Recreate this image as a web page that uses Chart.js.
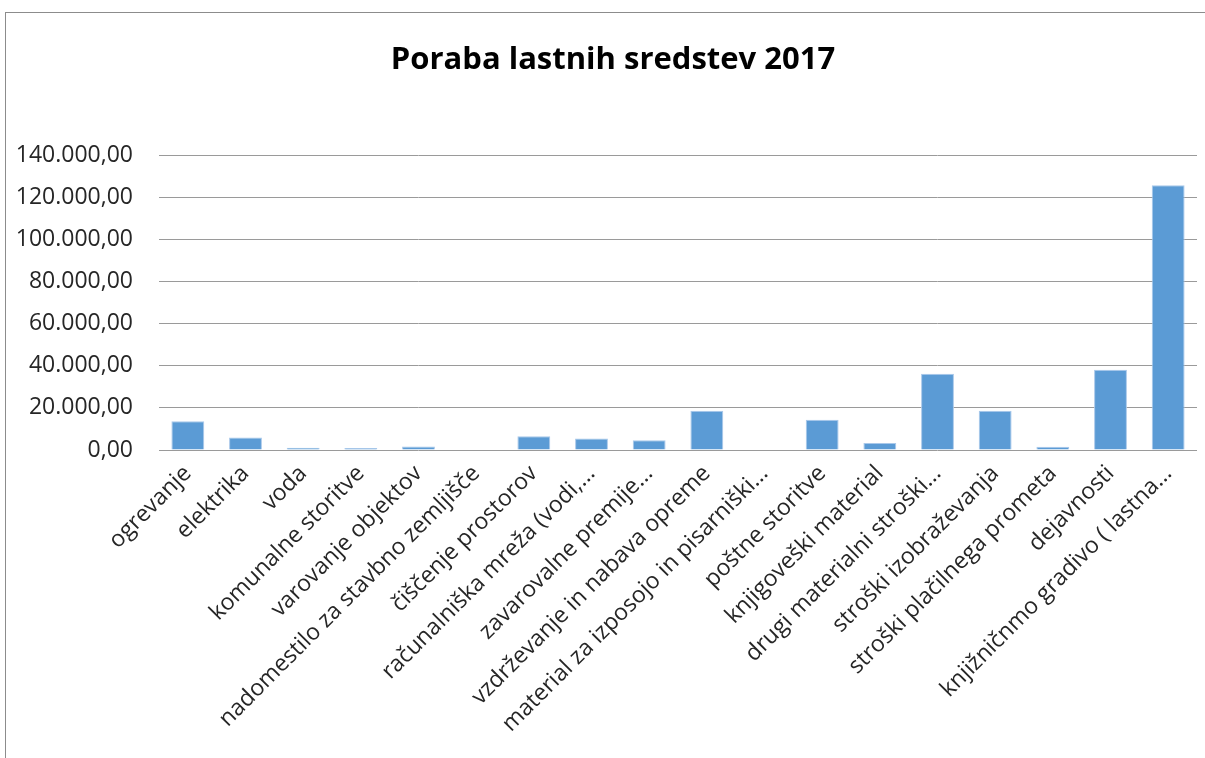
<!DOCTYPE html>
<html>
<head>
<meta charset="utf-8">
<script src="https://cdn.jsdelivr.net/npm/chart.js@4"></script>
<style>
  html, body { margin: 0; padding: 0; background: #fff; overflow: hidden; }
  #frame {
    position: absolute; left: 5px; top: 12px; width: 1300px; height: 900px;
    border-top: 1px solid #8c8c8c; border-left: 1px solid #8c8c8c;
  }
  #wrap { position: absolute; left: 0; top: 0; width: 1205px; height: 758px; }
  #title {
    position: absolute; left: 613px; top: 36px; transform: translateX(-50%);
    font-family: 'Open Sans', sans-serif; font-weight: bold; font-size: 31px;
    line-height: 42px; white-space: nowrap; color: #000;
  }
</style>
</head>
<body>
<div id="frame"></div>
<div id="wrap"><canvas id="chart-poraba"></canvas></div>
<div id="title">Poraba lastnih sredstev 2017</div>
<script>
// podatki - poraba lastnih sredstev 2017
const categories = [
    'ogrevanje',
    'elektrika',
    'voda',
    'komunalne storitve',
    'varovanje objektov',
    'nadomestilo za stavbno zemljišče',
    'čiščenje prostorov',
    'računalniška mreža (vodi,...',
    'zavarovalne premije...',
    'vzdrževanje in nabava opreme',
    'material za izposojo in pisarniški...',
    'poštne storitve',
    'knjigoveški material',
    'drugi materialni stroški...',
    'stroški izobraževanja',
    'stroški plačilnega prometa',
    'dejavnosti',
    'knjižničnmo gradivo ( lastna...'
];
const values = [13700, 5900, 1100, 1000, 1700, 0, 6500, 5400, 4600, 18600, 0, 14400, 3300, 36200, 18600, 1600, 38100, 125600];
const yTicks = [0, 20000, 40000, 60000, 80000, 100000, 120000, 140000];

const fmt = v => v.toLocaleString('de-DE', { minimumFractionDigits: 2, maximumFractionDigits: 2 });

const ctx = document.getElementById('chart-poraba').getContext('2d');
new Chart(ctx, {
    type: 'bar',
    data: {
        labels: categories,
        datasets: [{
            data: values,
            backgroundColor: '#5b9bd5',
            borderColor: '#a9c8ea',
            borderWidth: 1,
            barPercentage: 1,
            categoryPercentage: 0.57
        }]
    },
    options: {
        responsive: true,
        maintainAspectRatio: false,
        animation: false,
        // zgoraj prostor za naslov (HTML)
        layout: { padding: { left: 0, right: 8, top: 155, bottom: 0 } },
        plugins: {
            legend: { display: false },
            tooltip: { enabled: false },
            title: { display: false }
        },
        scales: {
            x: {
                grid: { display: false },
                border: { display: false },
                ticks: {
                    autoSkip: false,
                    minRotation: 45,
                    maxRotation: 45,
                    color: '#262626',
                    padding: 2,
                    font: { family: 'Open Sans', size: 23 }
                },
                afterFit: scale => { scale.height = 308; }
            },
            y: {
                min: 0,
                max: 140000,
                afterBuildTicks: scale => { scale.ticks = yTicks.map(v => ({ value: v })); },
                grid: { color: '#9a9a9a', lineWidth: 1, drawTicks: false },
                border: { display: false },
                ticks: {
                    color: '#262626',
                    padding: 26,
                    font: { family: 'Open Sans', size: 23 },
                    callback: v => fmt(v)
                },
                afterFit: scale => { scale.width = 159; }
            }
        }
    }
});
</script>
</body>
</html>
